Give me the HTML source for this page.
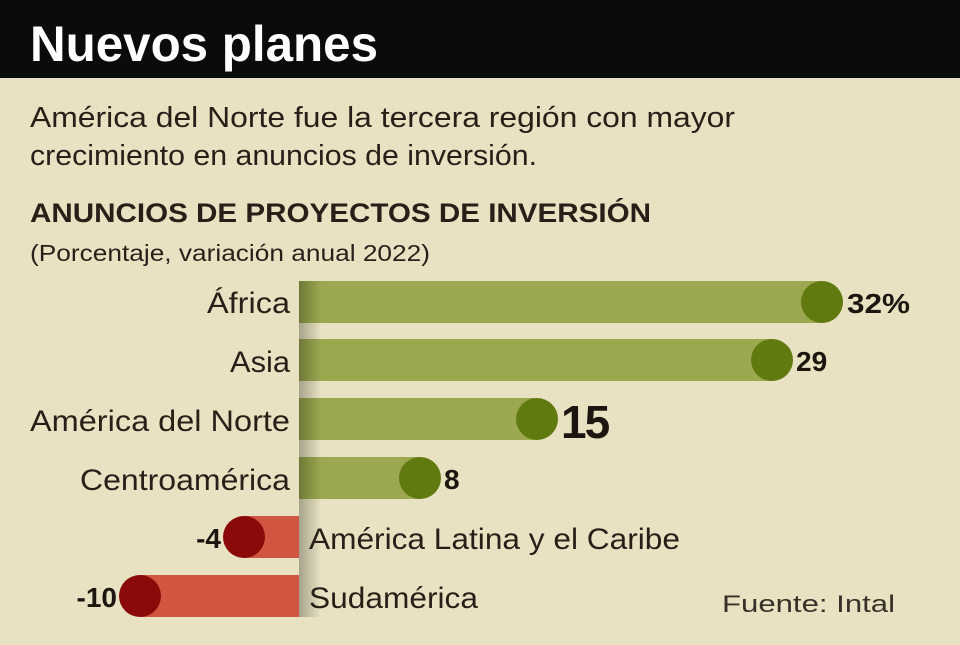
<!DOCTYPE html>
<html><head><meta charset="utf-8"><style>
body{margin:0;width:960px;height:640px;overflow:hidden;background:#e8e2c2;font-family:"Liberation Sans",sans-serif;}
</style></head><body>
<svg width="960" height="640" xmlns="http://www.w3.org/2000/svg">
<defs>
<linearGradient id="sh" x1="0" x2="1" y1="0" y2="0">
<stop offset="0" stop-color="#000" stop-opacity="0.28"/>
<stop offset="1" stop-color="#000" stop-opacity="0"/>
</linearGradient>
</defs>
<rect width="960" height="640" fill="#e8e2c2"/>
<rect width="960" height="78" fill="#0a0c0b"/>
<text x="30" y="61" font-size="50" font-weight="bold" fill="#fff" textLength="348" lengthAdjust="spacingAndGlyphs">Nuevos planes</text>
<g fill="#2a1f18" font-size="29">
<text x="30" y="127" textLength="705" lengthAdjust="spacingAndGlyphs">América del Norte fue la tercera región con mayor</text>
<text x="30" y="165" textLength="507" lengthAdjust="spacingAndGlyphs">crecimiento en anuncios de inversión.</text>
</g>
<text x="30" y="222" font-size="27" font-weight="bold" fill="#2a1f18" textLength="621" lengthAdjust="spacingAndGlyphs">ANUNCIOS DE PROYECTOS DE INVERSIÓN</text>
<text x="30" y="261" font-size="23" fill="#2a1f18" textLength="400" lengthAdjust="spacingAndGlyphs">(Porcentaje, variación anual 2022)</text>
<g fill="#9ba84f">
<rect x="299" y="281" width="523" height="42"/>
<rect x="299" y="339" width="473" height="42"/>
<rect x="299" y="398" width="238" height="42"/>
<rect x="299" y="457" width="121" height="42"/>
</g>
<g fill="#d05641">
<rect x="244" y="516" width="55" height="42"/>
<rect x="140" y="575" width="159" height="42"/>
</g>
<rect x="299" y="281" width="22" height="336" fill="url(#sh)"/>
<g fill="#617a10">
<circle cx="822" cy="302" r="21"/>
<circle cx="772" cy="360" r="21"/>
<circle cx="537" cy="419" r="21"/>
<circle cx="420" cy="478" r="21"/>
</g>
<g fill="#8a0a0a">
<circle cx="244" cy="537" r="21"/>
<circle cx="140" cy="596" r="21"/>
</g>
<g fill="#2a1f18" font-size="30">
<text x="207" y="313" textLength="83" lengthAdjust="spacingAndGlyphs">África</text>
<text x="230" y="372" textLength="60" lengthAdjust="spacingAndGlyphs">Asia</text>
<text x="30" y="431" textLength="260" lengthAdjust="spacingAndGlyphs">América del Norte</text>
<text x="80" y="490" textLength="210" lengthAdjust="spacingAndGlyphs">Centroamérica</text>
<text x="309" y="549" textLength="371" lengthAdjust="spacingAndGlyphs">América Latina y el Caribe</text>
<text x="309" y="608" textLength="169" lengthAdjust="spacingAndGlyphs">Sudamérica</text>
</g>
<g fill="#1f1510" font-weight="bold">
<text x="847" y="313" font-size="28" textLength="63" lengthAdjust="spacingAndGlyphs">32%</text>
<text x="796" y="371" font-size="28">29</text>
<text x="561" y="438" font-size="46" letter-spacing="-2">15</text>
<text x="444" y="489" font-size="28">8</text>
<text x="221" y="548" font-size="28" text-anchor="end">-4</text>
<text x="117" y="607" font-size="28" text-anchor="end">-10</text>
</g>
<text x="722" y="612" font-size="24" fill="#3a302a" textLength="173" lengthAdjust="spacingAndGlyphs">Fuente: Intal</text>
</svg>
</body></html>
